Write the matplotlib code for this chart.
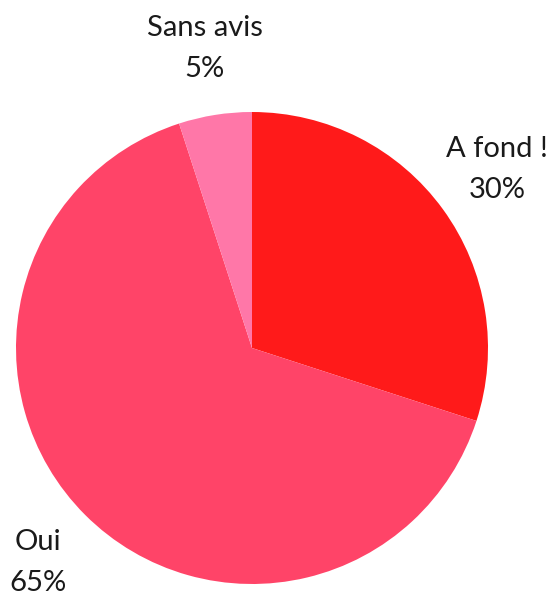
import matplotlib
matplotlib.use("Agg")
import matplotlib.pyplot as plt

categories = ["A fond !", "Oui", "Sans avis"]
values = [30, 65, 5]
colors = ["#FF1A1A", "#FF4468", "#FF77A8"]

W, H = 547, 595
fig = plt.figure(figsize=(W / 100, H / 100), dpi=100)
ax = fig.add_axes([0, 0, 1, 1])

labels = [f"{c}\n{v}%" for c, v in zip(categories, values)]
wedges, texts = ax.pie(values, colors=colors, startangle=90, counterclock=False,
                       center=(252, H - 348), radius=236, labels=labels,
                       labeldistance=1.285, frame=True,
                       wedgeprops=dict(linewidth=0))
for t in texts:
    t.set_ha("center")
    t.set_va("center")
    t.set_fontfamily("Lato")
    t.set_fontsize(21)
    t.set_color("#1a1a1a")
    t.set_linespacing(1.7)
ax.set_xlim(0, W)
ax.set_ylim(0, H)
ax.axis("off")
fig.savefig("out.png", dpi=100)
